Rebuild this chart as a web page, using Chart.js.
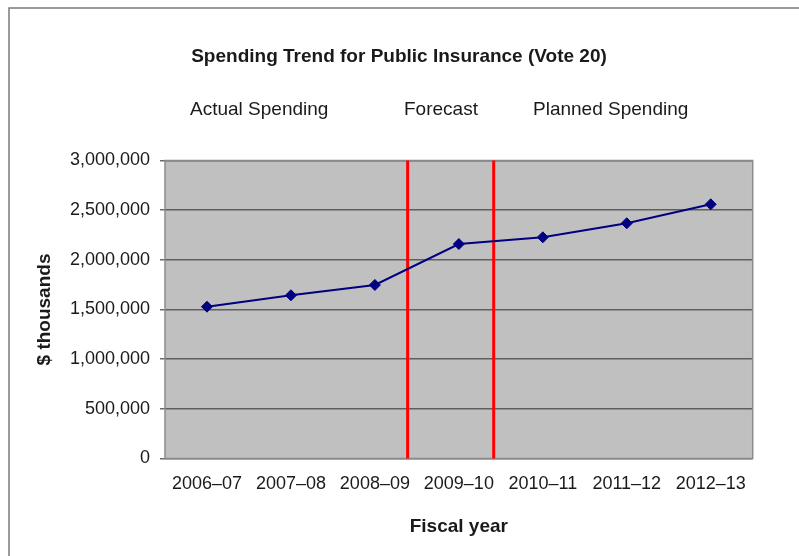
<!DOCTYPE html>
<html>
<head>
<meta charset="utf-8">
<script src="https://cdn.jsdelivr.net/npm/chart.js@4/dist/chart.umd.min.js"></script>
<style>
  html, body { margin: 0; padding: 0; background: #fff; }
  #wrap { width: 799px; height: 556px; position: relative; }
</style>
</head>
<body>
<div id="wrap"><canvas id="chart"></canvas></div>
<script>
// 데이터
const fiscalYears = ['2006–07', '2007–08', '2008–09', '2009–10', '2010–11', '2011–12', '2012–13'];
const spending = [1528000, 1643000, 1747000, 2159000, 2227000, 2368000, 2559000];
const periodLabels = ['Actual Spending', 'Forecast', 'Planned Spending'];
const dividers = [2.39, 3.415]; // 카테고리 인덱스 기준 구분선 위치

const chartTitle = 'Spending Trend for Public Insurance (Vote 20)';

// 플롯 배경, 바깥 테두리, 제목 텍스트
const frameAndTitles = {
    id: 'frameAndTitles',
    beforeDraw(chart) {
        const ctx = chart.ctx;
        const a = chart.chartArea;
        ctx.save();
        ctx.fillStyle = '#fff';
        ctx.fillRect(0, 0, chart.width, chart.height);
        ctx.strokeStyle = '#7a7a7a';
        ctx.lineWidth = 1.5;
        ctx.strokeRect(9, 8, chart.width + 20, chart.height + 20);
        ctx.fillStyle = '#c0c0c0';
        ctx.fillRect(a.left, a.top, a.right - a.left, a.bottom - a.top);

        ctx.fillStyle = '#1a1a1a';
        ctx.textBaseline = 'middle';
        ctx.textAlign = 'center';
        ctx.font = 'bold 19px "Liberation Sans", Arial, sans-serif';
        ctx.fillText(chartTitle, 399, 57);
        ctx.textAlign = 'left';
        ctx.font = '19px "Liberation Sans", Arial, sans-serif';
        const xs = [190, 404, 533];
        periodLabels.forEach((t, i) => ctx.fillText(t, xs[i], 110));
        ctx.restore();
    },
    beforeDatasetsDraw(chart) {
        const ctx = chart.ctx;
        const a = chart.chartArea;
        const x = chart.scales.x;
        ctx.save();
        // 플롯 테두리
        ctx.strokeStyle = '#8a8a8a';
        ctx.lineWidth = 1.5;
        ctx.strokeRect(a.left, a.top, a.right - a.left, a.bottom - a.top);
        // 빨간 구분선
        ctx.strokeStyle = '#ff0000';
        ctx.lineWidth = 3;
        dividers.forEach(d => {
            const i = Math.floor(d);
            const px = x.getPixelForValue(i) + (d - i) * (x.getPixelForValue(i + 1) - x.getPixelForValue(i));
            ctx.beginPath();
            ctx.moveTo(px, a.top);
            ctx.lineTo(px, a.bottom);
            ctx.stroke();
        });
        ctx.restore();
    }
};

new Chart(document.getElementById('chart'), {
    type: 'line',
    data: {
        labels: fiscalYears,
        datasets: [{
            data: spending,
            borderColor: '#000080',
            borderWidth: 2,
            tension: 0,
            pointStyle: 'rectRot',
            pointRadius: 5.5,
            pointBackgroundColor: '#000080',
            pointBorderColor: '#000080',
            pointBorderWidth: 1
        }]
    },
    options: {
        responsive: true,
        maintainAspectRatio: false,
        animation: false,
        layout: { padding: { top: 160.5, left: 20, right: 46.3, bottom: 7.5 } },
        plugins: {
            legend: { display: false },
            tooltip: { enabled: false }
        },
        scales: {
            x: {
                offset: true,
                grid: { display: false, drawTicks: false },
                border: { display: false },
                ticks: {
                    padding: 14.7,
                    maxRotation: 0,
                    autoSkip: false,
                    color: '#1a1a1a',
                    font: { size: 18, family: '"Liberation Sans", Arial, sans-serif' }
                },
                title: {
                    display: true,
                    text: 'Fiscal year',
                    color: '#1a1a1a',
                    padding: { top: 0, bottom: 10.1 },
                    font: { size: 19, weight: 'bold', family: '"Liberation Sans", Arial, sans-serif' }
                },
                afterFit(scale) { scale.height = 90; }
            },
            y: {
                min: 0,
                max: 3000000,
                border: { display: false },
                grid: {
                    color: '#5e5e5e',
                    lineWidth: 1.5,
                    tickLength: 5,
                    tickColor: '#6a6a6a'
                },
                ticks: {
                    stepSize: 500000,
                    padding: 10,
                    color: '#1a1a1a',
                    font: { size: 18, family: '"Liberation Sans", Arial, sans-serif' },
                    callback: v => v.toLocaleString('en-US')
                },
                title: {
                    display: true,
                    text: '$ thousands',
                    color: '#1a1a1a',
                    padding: { top: 13.6, bottom: 0 },
                    font: { size: 19, weight: 'bold', family: '"Liberation Sans", Arial, sans-serif' }
                },
                afterFit(scale) { scale.width = 145; }
            }
        }
    },
    plugins: [frameAndTitles]
});
</script>
</body>
</html>
